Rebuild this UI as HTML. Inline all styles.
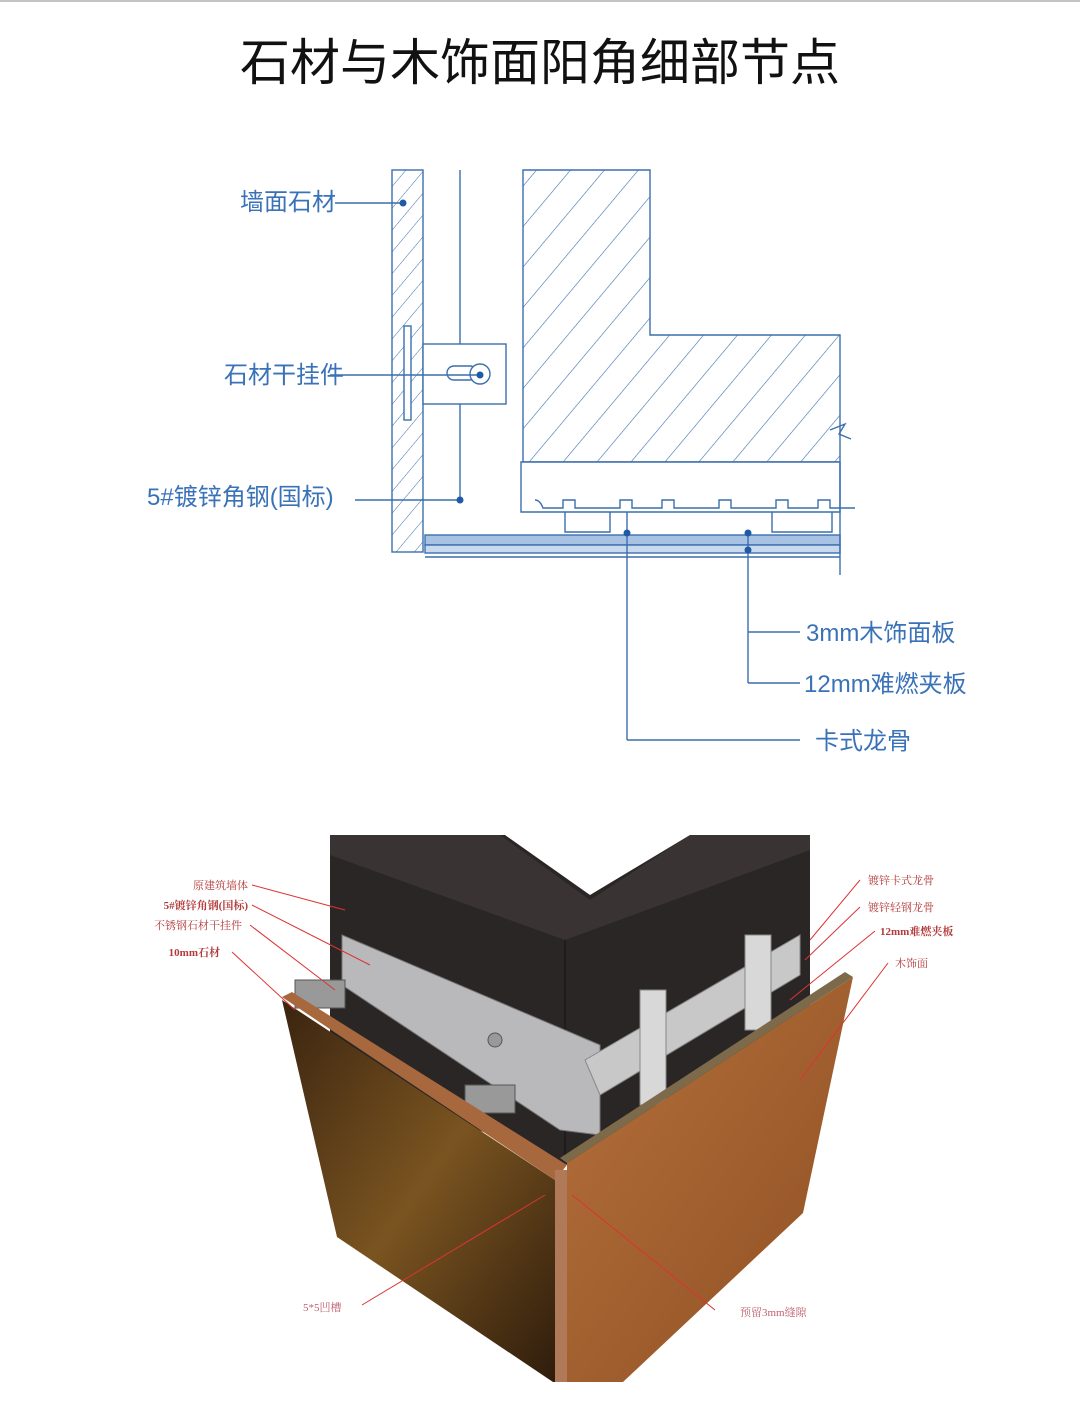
<!DOCTYPE html>
<html><head><meta charset="utf-8"><style>
html,body{margin:0;padding:0;background:#fff;}
svg{display:block;font-family:"Liberation Sans","Noto Sans CJK SC",sans-serif;}
</style></head><body>
<svg width="1080" height="1423" viewBox="0 0 1080 1423" xmlns="http://www.w3.org/2000/svg">
<defs>
<pattern id="h1" patternUnits="userSpaceOnUse" width="26" height="26" patternTransform="rotate(40)">
<line x1="0" y1="0" x2="0" y2="26" stroke="#3b6fae" stroke-width="1.2"/></pattern>
<pattern id="h2" patternUnits="userSpaceOnUse" width="14" height="14" patternTransform="rotate(40)">
<line x1="0" y1="0" x2="0" y2="14" stroke="#3b6fae" stroke-width="1"/></pattern>
<linearGradient id="wood" x1="0" y1="0" x2="1" y2="1"><stop offset="0" stop-color="#b5713d"/><stop offset="1" stop-color="#8f4f22"/></linearGradient>
<linearGradient id="marb" x1="0" y1="0" x2="1" y2="1"><stop offset="0" stop-color="#3a2410"/><stop offset="0.5" stop-color="#7a5420"/><stop offset="1" stop-color="#2e1c0c"/></linearGradient>
</defs>
<rect x="0" y="0" width="1080" height="1423" fill="#fff"/>
<line x1="0" y1="1" x2="1080" y2="1" stroke="#888" stroke-width="1"/>
<text x="540" y="80" font-size="50" text-anchor="middle" fill="#111">石材与木饰面阳角细部节点</text>

<g stroke="#3b6fae" fill="none" stroke-width="1.4">
<rect x="392" y="170" width="31" height="382" fill="url(#h2)"/>
<line x1="460" y1="170" x2="460" y2="500"/>
<rect x="423" y="344" width="83" height="60" fill="#fff"/>
<rect x="404" y="326" width="7" height="94" fill="#fff"/>
<rect x="447" y="366" width="30" height="14" rx="7" fill="#fff"/>
<circle cx="480" cy="374" r="10" fill="#fff"/>
<polygon points="523,170 650,170 650,335 840,335 840,462 523,462" fill="url(#h1)"/>
<path d="M830,430 l15,-6 l-6,10 l12,5"/>
<path d="M521,462 H840 V512 H521 Z" fill="#fff"/>
<path d="M535,500 q5,0 8,8 h20 v-8 h12 v8 h45 v-8 h12 v8 h30 v-8 h12 v8 h45 v-8 h12 v8 h45 v-8 h12 v8 h30 v-8 h12 v8 h25"/>
<path d="M565,512 v20 h45 v-20 M627,512 v20 M772,512 v20 h60 v-20"/>
<rect x="425" y="535" width="415" height="10" fill="#a8c2e3"/>
<rect x="425" y="545" width="415" height="8" fill="#c9d9ee"/>
<line x1="425" y1="557" x2="840" y2="557"/>
<line x1="840" y1="462" x2="840" y2="575"/>
<line x1="627" y1="533" x2="627" y2="740"/><line x1="627" y1="740" x2="800" y2="740"/>
<line x1="748" y1="533" x2="748" y2="683"/><line x1="748" y1="632" x2="800" y2="632"/><line x1="748" y1="683" x2="800" y2="683"/>
<line x1="335" y1="203" x2="403" y2="203"/>
<line x1="330" y1="375" x2="480" y2="375"/>
<line x1="355" y1="500" x2="460" y2="500"/>
</g>
<g fill="#1f5aa6"><circle cx="403" cy="203" r="3.5"/><circle cx="480" cy="375" r="3.5"/><circle cx="460" cy="500" r="3.5"/><circle cx="627" cy="533" r="3.5"/><circle cx="748" cy="533" r="3.5"/><circle cx="748" cy="550" r="3.5"/></g>
<g fill="#3a72b8" font-size="24">
<text x="240" y="210">墙面石材</text>
<text x="224" y="383">石材干挂件</text>
<text x="147" y="505">5#镀锌角钢(国标)</text>
<text x="806" y="641">3mm木饰面板</text>
<text x="804" y="692">12mm难燃夹板</text>
<text x="815" y="749">卡式龙骨</text>
</g>

<polygon points="330,835 810,835 810,1100 565,1165 330,1070" fill="#2b2626"/>
<polygon points="330,835 500,835 590,900 690,835 810,835 810,850 565,940 330,855" fill="#3a3333"/>
<polygon points="505,835 590,895 690,835" fill="#fff"/>
<line x1="565" y1="940" x2="565" y2="1160" stroke="#111" stroke-width="1"/>
<polygon points="342,935 600,1045 600,1135 560,1130 342,985" fill="#b9b9bb" stroke="#777"/>
<polygon points="585,1060 800,935 800,975 600,1095" fill="#c8c8c8" stroke="#888"/>
<g fill="#d8d8d8" stroke="#888"><rect x="640" y="990" width="26" height="115"/><rect x="745" y="935" width="26" height="95"/></g>
<g fill="#999" stroke="#555"><rect x="295" y="980" width="50" height="28"/><rect x="465" y="1085" width="50" height="28"/><circle cx="495" cy="1040" r="7"/></g>
<polygon points="282,1000 555,1180 555,1382 553,1382 337,1237" fill="url(#marb)"/>
<polygon points="282,997 292,992 567,1165 555,1180" fill="#a8683e"/>
<rect x="555" y="1170" width="12" height="212" fill="#b07a58"/>
<polygon points="567,1163 853,977 803,1213 623,1382 567,1382" fill="url(#wood)"/>
<polygon points="567,1163 853,977 845,972 560,1158" fill="#7d6a4a"/>
<g stroke="#d33" stroke-width="1" fill="none">
<path d="M252,885 L345,910"/><path d="M252,905 L370,965"/><path d="M250,925 L335,990"/><path d="M232,952 L295,1010"/>
<path d="M860,880 L810,940"/><path d="M860,907 L805,960"/><path d="M875,931 L790,1000"/><path d="M888,963 L800,1080"/>
<path d="M362,1305 L545,1195"/><path d="M715,1310 L572,1195"/>
</g>
<g fill="#b23a3a" font-size="11" font-family="Liberation Serif,'Noto Serif CJK SC',serif">
<text x="248" y="889" text-anchor="end">原建筑墙体</text>
<text x="248" y="909" text-anchor="end" font-weight="bold">5#镀锌角钢(国标)</text>
<text x="242" y="929" text-anchor="end">不锈钢石材干挂件</text>
<text x="220" y="956" text-anchor="end" font-weight="bold">10mm石材</text>
<text x="868" y="884">镀锌卡式龙骨</text>
<text x="868" y="911">镀锌轻钢龙骨</text>
<text x="880" y="935" font-weight="bold">12mm难燃夹板</text>
<text x="895" y="967">木饰面</text>
<text x="303" y="1311" fill="#c06070">5*5凹槽</text>
<text x="740" y="1316" fill="#c06070">预留3mm缝隙</text>
</g>
</svg>
</body></html>
